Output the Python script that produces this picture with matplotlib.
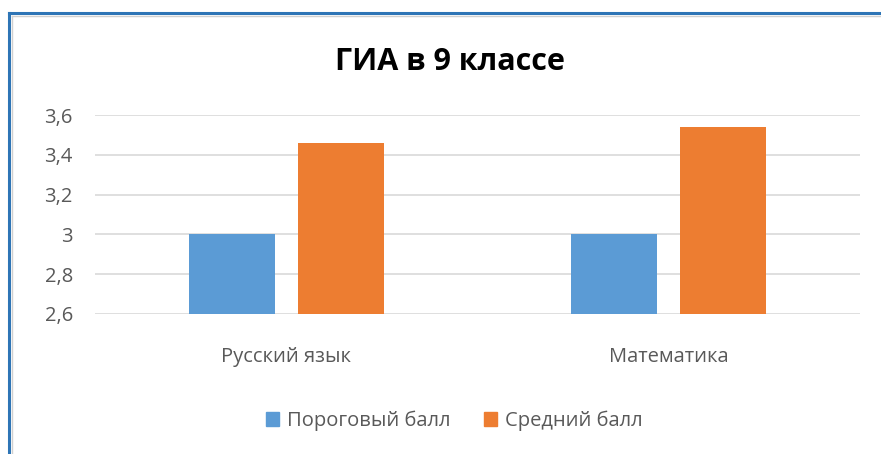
import matplotlib
matplotlib.use("Agg")
import matplotlib.pyplot as plt
import numpy as np
from matplotlib.lines import Line2D
from matplotlib.patches import Patch

categories = ["Русский язык", "Математика"]
series_names = ["Пороговый балл", "Средний балл"]
threshold = [3.0, 3.0]
average = [3.46, 3.54]
yticks = [2.6, 2.8, 3.0, 3.2, 3.4, 3.6]
ytick_labels = ["2,6", "2,8", "3", "3,2", "3,4", "3,6"]
colors = ["#5B9BD5", "#ED7D31"]

plt.rcParams['font.family'] = ['Open Sans', 'DejaVu Sans']

W, H = 881, 454
fig = plt.figure(figsize=(W/100, H/100), dpi=100)
ax = fig.add_axes([95/W, 1-314/H, 765/W, 199/H])

x = np.arange(len(categories))
bw = 0.225
off = (bw + 0.06) / 2
ax.bar(x - off, threshold, bw, color=colors[0], zorder=3)
ax.bar(x + off, average, bw, color=colors[1], zorder=3)
ax.set_xlim(-0.5, 1.5)
ax.set_ylim(2.6, 3.6)
ax.set_yticks(yticks)
ax.set_yticklabels(ytick_labels)
ax.set_xticks(x)
ax.set_xticklabels(categories)
ax.tick_params(axis='both', length=0, labelsize=14.5, labelcolor="#595959")
ax.tick_params(axis='y', pad=16)
ax.tick_params(axis='x', pad=24)
for s in ax.spines.values():
    s.set_visible(False)
ax.grid(axis='y', color="#D9D9D9", linewidth=1.2, zorder=0)

fig.text(450/W, 1-62/H, "ГИА в 9 классе", ha='center', va='center',
         fontsize=22, fontweight='bold', color="#000000")

handles = [Patch(color=c) for c in colors]
fig.legend(handles, series_names, loc='center', bbox_to_anchor=(454/W, 1-421/H),
           ncol=2, frameon=False, fontsize=14.5, labelcolor="#595959",
           handlelength=0.65, handleheight=0.65, handletextpad=0.4, columnspacing=1.65)

# outer frame
fig.add_artist(Line2D([9/W, 9/W], [0, 1-13/H], color="#2E75B6", linewidth=2.2))
fig.add_artist(Line2D([9/W, 1], [1-13/H, 1-13/H], color="#2E75B6", linewidth=2.2))
fig.add_artist(Line2D([11.5/W, 11.5/W], [0, 1-15.5/H], color="#D0D0D0", linewidth=1))
fig.add_artist(Line2D([11.5/W, 1], [1-15.5/H, 1-15.5/H], color="#D0D0D0", linewidth=1))

fig.savefig("out.png", dpi=100)
